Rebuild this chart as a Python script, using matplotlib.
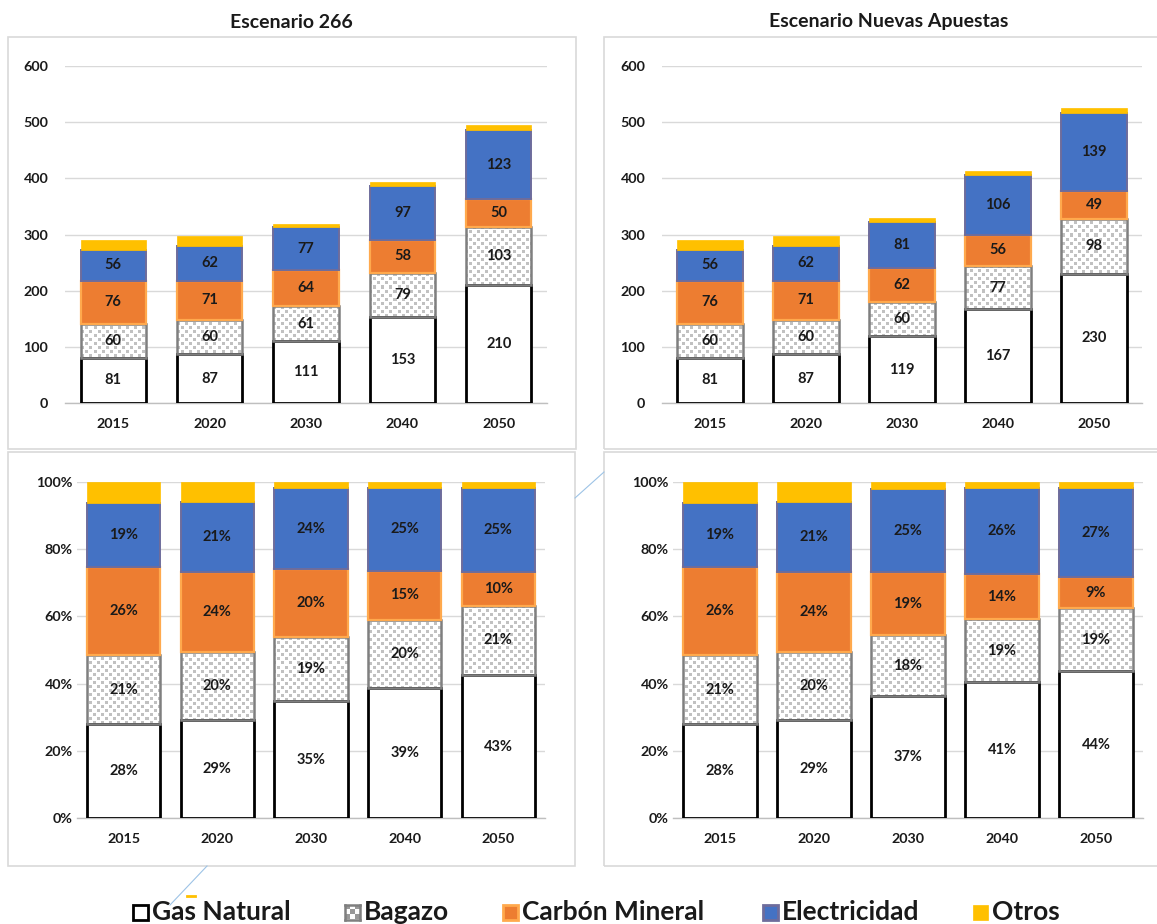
import numpy as np
import matplotlib
matplotlib.use("Agg")
import matplotlib.pyplot as plt
from matplotlib.patches import Rectangle
from matplotlib.lines import Line2D

plt.rcParams['font.family'] = ['Lato', 'DejaVu Sans']
plt.rcParams['font.weight'] = 'bold'

# ---------------- data ----------------
years = ["2015", "2020", "2030", "2040", "2050"]
series = ["Gas Natural", "Bagazo", "Carbón Mineral", "Electricidad", "Otros"]

# Escenario 266
gas_266 = [81, 87, 111, 153, 210]
bag_266 = [60, 60, 61, 79, 103]
car_266 = [76, 71, 64, 58, 50]
ele_266 = [56, 62, 77, 97, 123]
otr_266 = [18, 18, 6, 7, 9]

# Escenario Nuevas Apuestas
gas_na = [81, 87, 119, 167, 230]
bag_na = [60, 60, 60, 77, 98]
car_na = [76, 71, 62, 56, 49]
ele_na = [56, 62, 81, 106, 139]
otr_na = [18, 18, 7, 7, 10]

# percentage labels (as printed)
pct_lab_266 = {
    "Gas Natural": [28, 29, 35, 39, 43],
    "Bagazo": [21, 20, 19, 20, 21],
    "Carbón Mineral": [26, 24, 20, 15, 10],
    "Electricidad": [19, 21, 24, 25, 25],
}
pct_lab_na = {
    "Gas Natural": [28, 29, 37, 41, 44],
    "Bagazo": [21, 20, 18, 19, 19],
    "Carbón Mineral": [26, 24, 19, 14, 9],
    "Electricidad": [19, 21, 25, 26, 27],
}

yticks_abs = [0, 100, 200, 300, 400, 500, 600]
yticks_pct = [0, 0.2, 0.4, 0.6, 0.8, 1.0]

# ---------------- styles ----------------
styles = {
    "Gas Natural": dict(fc="white", ec="#000000", lw=2.0),
    "Bagazo": dict(fc="none", ec="#7f7f7f", lw=1.8),
    "Carbón Mineral": dict(fc="#ED7D31", ec="#FFA94D", lw=1.6),
    "Electricidad": dict(fc="#4472C4", ec="#6E6C9C", lw=1.4),
    "Otros": dict(fc="#FFC000", ec="#FFC000", lw=0.5),
}
TXT = "#1a1a1a"
GRID = "#d9d9d9"

W, H = 1157, 924
fig = plt.figure(figsize=(W / 100, H / 100), dpi=100)


def px_axes(l, t, r, b):
    return fig.add_axes([l / W, 1 - b / H, (r - l) / W, (b - t) / H])


def checker(wpx, hpx, period=8, sq=3, shade=0.76):
    j, i = np.meshgrid(np.arange(wpx), np.arange(hpx))
    half = period // 2
    m1 = ((i % period) < sq) & ((j % period) < sq)
    m2 = (((i + half) % period) < sq) & (((j + half) % period) < sq)
    mask = m1 | m2
    img = np.ones((hpx, wpx, 4))
    img[mask, :3] = shade
    return img


def draw_panel(ax, stacks, ylim, yticks, width, labels, fmt, ypx):
    x = np.arange(len(years))
    ax.set_xlim(-0.5, len(years) - 0.5)
    ax.set_ylim(*ylim)
    bottom = np.zeros(len(years))
    bb = ax.get_position()
    wpx = int(round(bb.width * W))
    hpx = int(round(bb.height * H))
    for name, vals in zip(series, stacks):
        vals = np.asarray(vals, dtype=float)
        st = styles[name]
        bars = ax.bar(x, vals, width, bottom=bottom, facecolor=st["fc"],
                      edgecolor=st["ec"], linewidth=st["lw"], zorder=3)
        if name == "Bagazo":
            tex = checker(wpx, hpx)
            for rect in bars:
                im = ax.imshow(tex, extent=(-0.5, len(years) - 0.5, ylim[0], ylim[1]),
                               aspect='auto', interpolation='nearest', zorder=2.5,
                               origin='upper')
                im.set_clip_path(rect)
        if name in labels:
            for xi, b0, v, lab in zip(x, bottom, vals, labels[name]):
                ax.text(xi, b0 + v / 2, fmt(lab), ha='center', va='center',
                        fontsize=10.5, fontweight='bold', color=TXT, zorder=5)
        bottom = bottom + vals
    ax.set_xlim(-0.5, len(years) - 0.5)
    ax.set_ylim(*ylim)
    ax.set_yticks(yticks)
    ax.set_xticks(x)
    ax.set_xticklabels(years)
    ax.grid(axis='y', color=GRID, lw=1, zorder=0)
    ax.set_axisbelow(True)
    for s in ["top", "right", "left"]:
        ax.spines[s].set_visible(False)
    ax.spines["bottom"].set_color("#bfbfbf")
    ax.spines["bottom"].set_linewidth(1)
    ax.tick_params(length=0, labelsize=10.3, colors=TXT, pad=ypx)
    ax.tick_params(axis='x', pad=11)
    for t in ax.get_xticklabels() + ax.get_yticklabels():
        t.set_fontweight('bold')
    ax.patch.set_alpha(0)


# panel frames
for (l, t, r, b) in [(8, 37, 576, 449), (604, 37, 1160, 449),
                     (8, 452, 575, 866), (604, 452, 1160, 866)]:
    fig.patches.append(Rectangle((l / W, 1 - b / H), (r - l) / W, (b - t) / H,
                                 transform=fig.transFigure, fill=False,
                                 ec="#d9d9d9", lw=1.2, zorder=0))

fig.text(291 / W, 1 - 22 / H, "Escenario 266", ha='center', va='center',
         fontsize=14, fontweight='bold', color=TXT)
fig.text(889 / W, 1 - 22 / H, "Escenario Nuevas Apuestas", ha='center', va='center',
         fontsize=14, fontweight='bold', color=TXT)

# absolute panels
abs266 = [gas_266, bag_266, car_266, ele_266, otr_266]
absna = [gas_na, bag_na, car_na, ele_na, otr_na]
lab266 = dict(zip(series[:4], abs266[:4]))
labna = dict(zip(series[:4], absna[:4]))

ax1 = px_axes(65, 66, 547, 403)
draw_panel(ax1, abs266, (0, 600), yticks_abs, 0.675, lab266, lambda v: f"{v:d}", 12)
ax2 = px_axes(662, 66, 1142, 403)
draw_panel(ax2, absna, (0, 600), yticks_abs, 0.69, labna, lambda v: f"{v:d}", 12)


def shares(stacks):
    arr = np.array(stacks, dtype=float)
    return list(arr / arr.sum(axis=0))


ax3 = px_axes(77, 482, 545, 818)
draw_panel(ax3, shares(abs266), (0, 1), yticks_pct, 0.78, pct_lab_266,
           lambda v: f"{v:d}%", 3)
ax4 = px_axes(673, 482, 1143, 818)
draw_panel(ax4, shares(absna), (0, 1), yticks_pct, 0.78, pct_lab_na,
           lambda v: f"{v:d}%", 3)
for ax in (ax3, ax4):
    ax.set_yticklabels([f"{int(round(v * 100))}%" for v in yticks_pct])
    for t in ax.get_yticklabels():
        t.set_fontweight('bold')

# legend
leg_items = [(133, "Gas Natural"), (345, "Bagazo"), (503, "Carbón Mineral"),
             (763, "Electricidad"), (973, "Otros")]
ly = 912
for xpx, name in leg_items:
    st = styles[name]
    s = 15
    if name == "Bagazo":
        lax = px_axes(xpx, ly - s / 2, xpx + s, ly + s / 2)
        lax.imshow(checker(s, s, period=10, sq=5, shade=0.6), interpolation='nearest',
                   aspect='auto')
        lax.set_xticks([]); lax.set_yticks([])
        for sp in lax.spines.values():
            sp.set_color("#7f7f7f"); sp.set_linewidth(1.8)
    else:
        fig.patches.append(Rectangle((xpx / W, 1 - (ly + s / 2) / H), s / W, s / H,
                                     transform=fig.transFigure, fc=st["fc"],
                                     ec=st["ec"], lw=2.0 if name != "Otros" else 0.5))
    fig.text((xpx + s + 4) / W, 1 - ly / H, name, ha='left', va='center',
             fontsize=19, fontweight='bold', color=TXT)

# decorative artifacts in the source image
fig.add_artist(Line2D([575 / W, 604 / W], [1 - 498 / H, 1 - 472 / H],
                      transform=fig.transFigure, color="#9DC3E6", lw=0.8))
fig.add_artist(Line2D([207 / W, 170 / W], [1 - 866 / H, 1 - 905 / H],
                      transform=fig.transFigure, color="#9DC3E6", lw=0.8))
fig.add_artist(Line2D([187 / W, 195 / W], [1 - 896 / H, 1 - 896 / H],
                      transform=fig.transFigure, color="#FFC000", lw=2))

fig.savefig("out.png", dpi=100)
